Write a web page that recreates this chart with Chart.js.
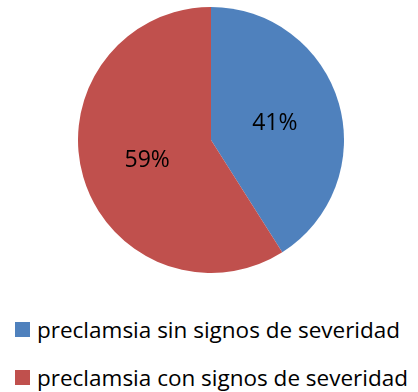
<!DOCTYPE html>
<html>
<head>
<meta charset="utf-8">
<script src="https://cdn.jsdelivr.net/npm/chart.js@4/dist/chart.umd.min.js"></script>
<style>
  html, body { margin: 0; padding: 0; background: #fff; }
  body { width: 418px; height: 392px; position: relative; overflow: hidden; font-family: "Open Sans", "Noto Sans", sans-serif; }
  #pieBox { position: absolute; left: 78px; top: 7px; width: 266px; height: 266px; }
  #legend { position: absolute; left: 15px; top: 305px; }
  .item { display: flex; align-items: center; height: 48px; font-size: 22.5px; color: #000; white-space: nowrap; letter-spacing: 0px; }
  .swatch { width: 15px; height: 15px; margin-right: 7px; flex: none; }
</style>
</head>
<body>
<div id="pieBox"><canvas id="chart"></canvas></div>
<div id="legend"></div>
<script>
// Share of preeclampsia cases by severity signs (percent)
const categories = ["preclamsia sin signos de severidad", "preclamsia con signos de severidad"];
const percentages = [41, 59];
const colors = ["#4F81BD", "#C0504D"];

// Percentage labels placed inside each slice
const sliceLabels = {
  id: "sliceLabels",
  afterDatasetsDraw(chart) {
    const ctx = chart.ctx;
    const meta = chart.getDatasetMeta(0);
    ctx.save();
    ctx.font = "23px 'Open Sans', 'Noto Sans', sans-serif";
    ctx.fillStyle = "#000";
    ctx.textAlign = "center";
    ctx.textBaseline = "middle";
    meta.data.forEach((arc, i) => {
      const p = arc.getProps(["x", "y", "startAngle", "endAngle", "outerRadius"], true);
      const mid = (p.startAngle + p.endAngle) / 2;
      const r = p.outerRadius * 0.5;
      ctx.fillText(percentages[i] + "%", p.x + Math.cos(mid) * r, p.y + Math.sin(mid) * r + 2);
    });
    ctx.restore();
  }
};

new Chart(document.getElementById("chart"), {
  type: "pie",
  data: {
    labels: categories,
    datasets: [{ data: percentages, backgroundColor: colors, borderWidth: 0 }]
  },
  options: {
    responsive: true,
    maintainAspectRatio: false,
    animation: false,
    layout: { padding: 0 },
    plugins: { legend: { display: false }, tooltip: { enabled: false } }
  },
  plugins: [sliceLabels]
});

// Legend built from the same categories and colours
const legend = document.getElementById("legend");
categories.forEach((name, i) => {
  const row = document.createElement("div");
  row.className = "item";
  const sw = document.createElement("span");
  sw.className = "swatch";
  sw.style.background = colors[i];
  const txt = document.createElement("span");
  txt.textContent = name;
  row.appendChild(sw);
  row.appendChild(txt);
  legend.appendChild(row);
});
</script>
</body>
</html>
